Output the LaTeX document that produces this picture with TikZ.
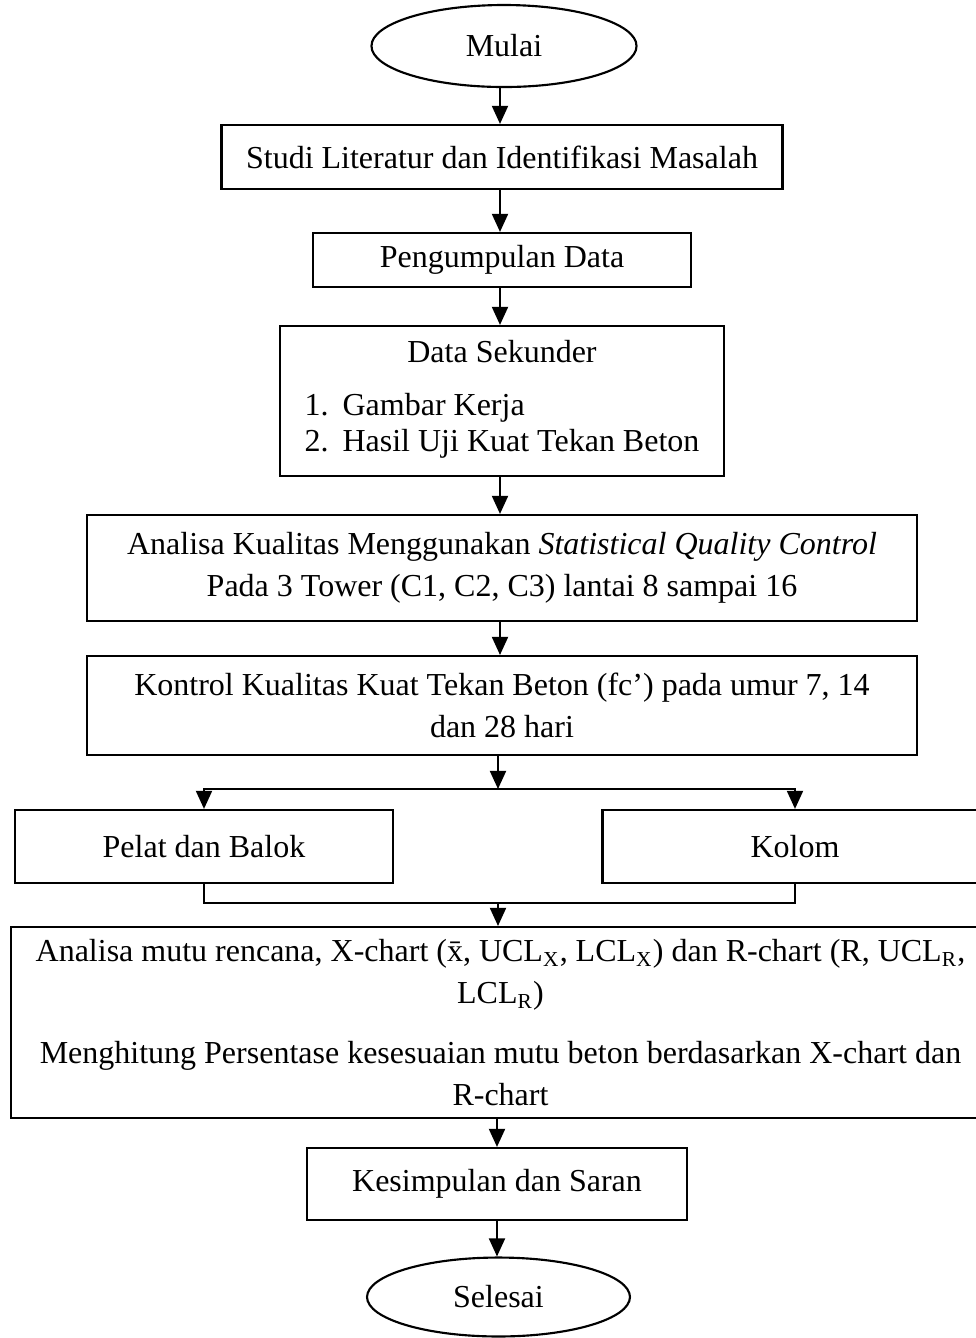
\documentclass[tikz,border=0pt]{standalone}
\usepackage{fontspec}
\setmainfont{Liberation Serif}
\usetikzlibrary{shapes.geometric,arrows.meta}

\begin{document}
\begin{tikzpicture}[x=0.375pt, y=-0.375pt,
	kotak/.style = {draw, rectangle, line width=0.8pt, inner sep=0pt, align=center, font=\fontsize{12}{15.75}\selectfont},
	ujung/.style = {draw, ellipse, line width=0.8pt, inner sep=0pt, font=\fontsize{12}{15.75}\selectfont},
	panah/.style = {-{Triangle[length=6.8pt, width=6pt]}, line width=0.8pt}]
						\useasboundingbox (0, 0) rectangle (976, 1338);
						\clip (0, 0) rectangle (976, 1338);
						\node [ujung, minimum width = 99.4pt, minimum height = 30.75pt] (mulai) at (504, 46) {Mulai};
						\node [kotak, minimum width = 210.4pt, minimum height = 24pt] (studi) at (502, 157) {Studi Literatur dan Identifikasi Masalah};
						\node [kotak, minimum width = 141.75pt, minimum height = 20.25pt] (kumpul) at (502, 260) {Pengumpulan Data};
						\node [kotak, minimum width = 166.5pt, minimum height = 56.25pt] (sekunder) at (502, 401) {Data Sekunder\\[4pt]{\fontsize{12}{13.5}\selectfont\begin{tabular}[t]{@{}l@{\hspace{5.25pt}}l@{}}1. & Gambar Kerja\\2. & Hasil Uji Kuat Tekan Beton\end{tabular}}};
						\node [kotak, minimum width = 311.25pt, minimum height = 39.75pt] (analisa) at (502, 568) {Analisa Kualitas Menggunakan \textit{Statistical Quality Control}\\Pada 3 Tower (C1, C2, C3) lantai 8 sampai 16};
						\node [kotak, minimum width = 311.25pt, minimum height = 37.1pt] (kontrol) at (502, 705.5) {Kontrol Kualitas Kuat Tekan Beton (fc’) pada umur 7, 14\\dan 28 hari};
						\node [kotak, minimum width = 141.75pt, minimum height = 27.4pt] (pelat) at (204, 846.5) {Pelat dan Balok};
						\node [kotak, minimum width = 144.4pt, minimum height = 27.4pt] (kolom) at (795, 846.5) {Kolom};
						\node [kotak, minimum width = 367.1pt, minimum height = 71.6pt] (hasil) at (500.5, 1022.5) {Analisa mutu rencana, X-chart (\={x}, UCL\textsubscript{X}, LCL\textsubscript{X}) dan R-chart (R, UCL\textsubscript{R},\\LCL\textsubscript{R})\\[6.75pt]Menghitung Persentase kesesuaian mutu beton berdasarkan X-chart dan\\R-chart};
						\node [kotak, minimum width = 142.5pt, minimum height = 27pt] (kesimpulan) at (497, 1184) {Kesimpulan dan Saran};
						\node [ujung, minimum width = 98.6pt, minimum height = 29.6pt] (selesai) at (498.5, 1297) {Selesai};
						\coordinate (bagi) at (498, 789);
						\coordinate (gabung) at (498, 903);
						\draw [panah] (mulai.south -| 500, 0) to (studi.north -| 500, 0);
						\draw [panah] (studi.south -| 500, 0) to (kumpul.north -| 500, 0);
						\draw [panah] (kumpul.south -| 500, 0) to (sekunder.north -| 500, 0);
						\draw [panah] (sekunder.south -| 500, 0) to (analisa.north -| 500, 0);
						\draw [panah] (analisa.south -| 500, 0) to (kontrol.north -| 500, 0);
						\draw [panah] (kontrol.south -| bagi) to (bagi);
						\draw [panah] (bagi) -| (pelat.north);
						\draw [panah] (bagi) -| (kolom.north);
						\draw (pelat.south) |- (gabung) -| (kolom.south);
						\draw [panah] (gabung) to (hasil.north -| gabung);
						\draw [panah] (hasil.south -| kesimpulan) to (kesimpulan);
						\draw [panah] (kesimpulan) to (selesai.north -| kesimpulan);
					\end{tikzpicture}
\end{document}
